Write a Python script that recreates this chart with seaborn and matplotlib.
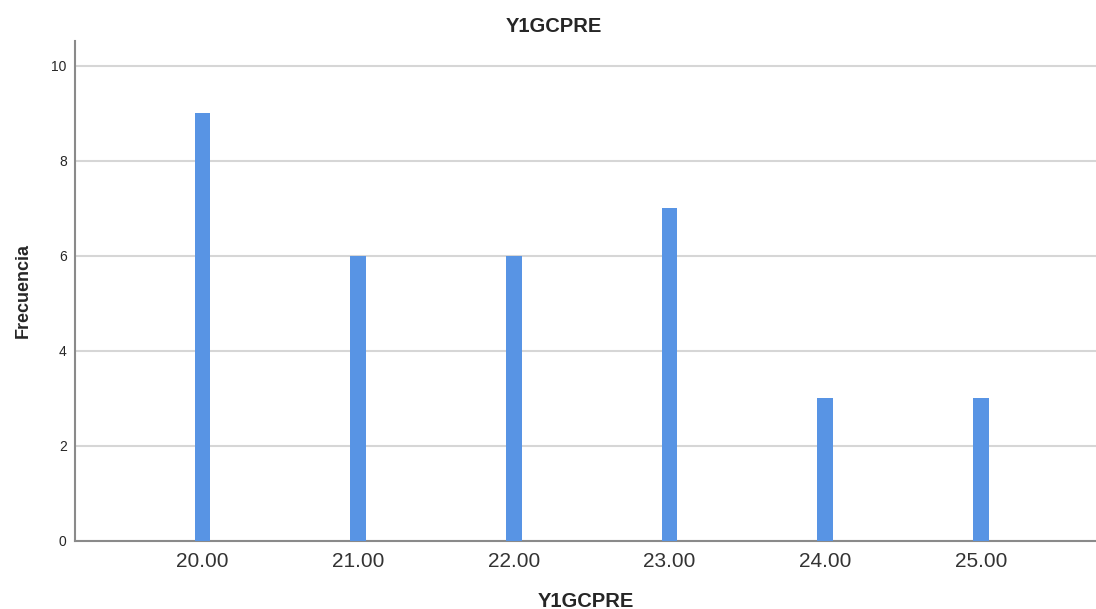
import matplotlib
matplotlib.use("Agg")
import matplotlib.pyplot as plt
import seaborn as sns
import pandas as pd

# Frequency table
valores = ["20.00", "21.00", "22.00", "23.00", "24.00", "25.00"]
frecuencias = [9, 6, 6, 7, 3, 3]
y_ticks = [0, 2, 4, 6, 8, 10]

df = pd.DataFrame({"Y1GCPRE": valores, "Frecuencia": frecuencias})

sns.set_style("white")
plt.rcParams["font.family"] = ["Liberation Sans", "DejaVu Sans"]

fig = plt.figure(figsize=(10.96, 6.09), dpi=100)
ax = fig.add_axes([0.0684, 0.1117, 0.9316, 0.8213])

sns.barplot(data=df, x="Y1GCPRE", y="Frecuencia", color="#5894E4",
            saturation=1, width=0.1, linewidth=0, ax=ax, zorder=3)

ax.set_xlim(-0.82, 5.74)
ax.set_ylim(0, 10.53)
ax.set_yticks(y_ticks)
ax.yaxis.grid(True, color="#D6D6D6", linewidth=1.5, zorder=0)
ax.set_axisbelow(True)

for side in ["top", "right"]:
    ax.spines[side].set_visible(False)
for side in ["left", "bottom"]:
    ax.spines[side].set_color("#8A8A8A")
    ax.spines[side].set_linewidth(1.5)

ax.tick_params(axis="y", length=3, color="#8A8A8A", labelsize=10, pad=3)
ax.tick_params(axis="x", length=0, labelsize=15, pad=8, labelcolor="#333333")

# title sits centred on the figure rather than the axes
fig.text(0.505, 1 - 32 / 609, "Y1GCPRE", ha="center", va="baseline",
         fontsize=14.5, fontweight="bold")
ax.set_xlabel("Y1GCPRE", fontsize=14.5, fontweight="bold", labelpad=15)
ax.set_ylabel("Frecuencia", fontsize=13, fontweight="bold", labelpad=14)

fig.savefig("out.png", dpi=100)
